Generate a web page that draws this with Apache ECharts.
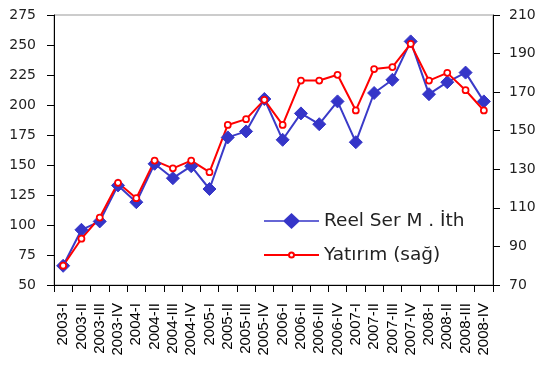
<!DOCTYPE html>
<html><head><meta charset="utf-8">
<script src="https://cdn.jsdelivr.net/npm/echarts@6/dist/echarts.min.js"></script>
<style>html,body{margin:0;padding:0;background:#fff}#c{width:540px;height:367px}</style>
</head><body><div id="c"></div>
<script>
const categories = ["2003-I","2003-II","2003-III","2003-IV","2004-I","2004-II","2004-III","2004-IV","2005-I","2005-II","2005-III","2005-IV","2006-I","2006-II","2006-III","2006-IV","2007-I","2007-II","2007-III","2007-IV","2008-I","2008-II","2008-III","2008-IV"];
const reelSerMIth = [66,96,103,133,119,151,139,149,130,173,178,205,171,193,184,203,169,210,221,253,209,219,227,203];
const yatirim = [80,94,105,123,115,134.5,130.5,134.5,128.5,153,156,166,153,176,176,179,160.5,182,183,195,176,180,171,160.5];
const seriesNames = ["Reel Ser M . İth", "Yatırım (sağ)"];
const font = "'DejaVu Sans', sans-serif";

const blueIcon = 'path://M0,7.25L55,7.25L55,8.75L0,8.75Z M19,8L27.5,0L36,8L27.5,16Z';
const redIcon = 'path://M0,8L25,8 M30,8L55,8 M25,8A2.5,2.5 0 1,1 30,8A2.5,2.5 0 1,1 25,8Z M0,0L0,0 M0,16L0,16';

const chart = echarts.init(document.getElementById('c'));
chart.setOption({
  animation: false,
  backgroundColor: '#fff',
  grid: {left: 54, right: 47, top: 15, bottom: 82, show: true, borderColor: '#999', borderWidth: 1},
  legend: {
    orient: 'vertical', left: 258, top: 206, itemWidth: 55, itemHeight: 16, itemGap: 14,
    textStyle: {fontFamily: font, fontSize: 18.5, color: '#222', lineHeight: 20},
    data: [
      {name: seriesNames[0], icon: blueIcon},
      {name: seriesNames[1], icon: redIcon}
    ]
  },
  xAxis: {
    type: 'category', data: categories, boundaryGap: true,
    axisLine: {lineStyle: {color: '#000'}},
    axisTick: {show: true, alignWithLabel: false, length: 7, lineStyle: {color: '#000'}},
    axisLabel: {rotate: 90, interval: 0, fontFamily: "'Liberation Sans', Arial, sans-serif", fontSize: 15, color: '#000', margin: 18}
  },
  yAxis: [
    {type: 'value', min: 50, max: 275, interval: 25, position: 'left',
     axisLine: {show: true, lineStyle: {color: '#000'}},
     axisTick: {show: true, length: 7, lineStyle: {color: '#000'}},
     splitLine: {show: false},
     axisLabel: {fontFamily: font, fontSize: 14, color: '#222', margin: 18}},
    {type: 'value', min: 70, max: 210, interval: 20, position: 'right',
     axisLine: {show: true, lineStyle: {color: '#000'}},
     axisTick: {show: true, length: 7, lineStyle: {color: '#000'}},
     splitLine: {show: false},
     axisLabel: {fontFamily: font, fontSize: 14, color: '#222', margin: 16}}
  ],
  series: [
    {name: seriesNames[0], type: 'line', yAxisIndex: 0, data: reelSerMIth,
     symbol: 'diamond', symbolSize: 13,
     lineStyle: {color: '#3a3ac8', width: 2},
     itemStyle: {color: '#3535c8', borderColor: '#3535c8'}},
    {name: seriesNames[1], type: 'line', yAxisIndex: 1, data: yatirim,
     symbol: 'circle', symbolSize: 6, z: 3,
     lineStyle: {color: '#ff0000', width: 2},
     itemStyle: {color: '#fff', borderColor: '#ff0000', borderWidth: 1.75}}
  ]
});
</script></body></html>
